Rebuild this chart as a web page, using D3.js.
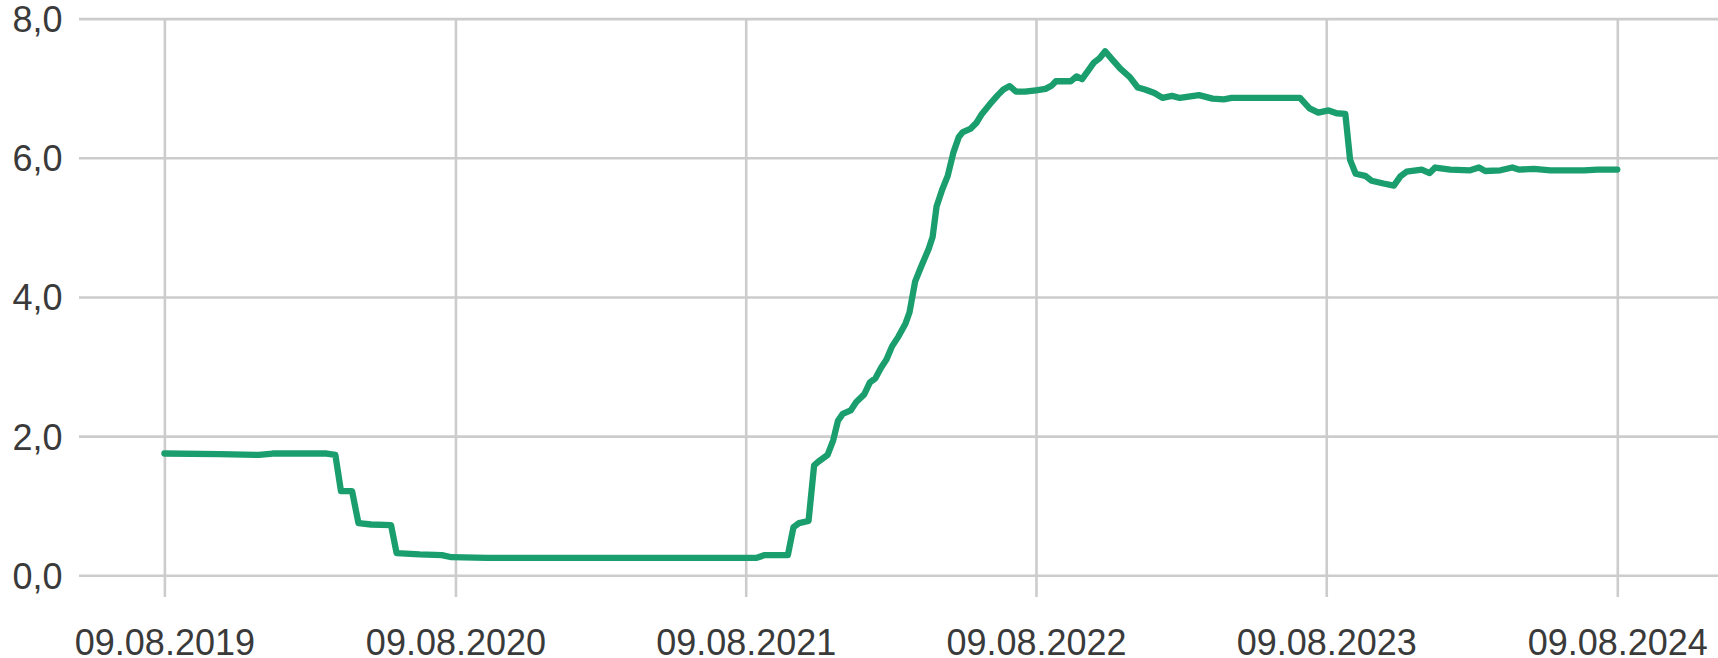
<!DOCTYPE html>
<html>
<head>
<meta charset="utf-8">
<script src="https://cdn.jsdelivr.net/npm/d3@7"></script>
<style>
  html, body { margin: 0; padding: 0; background: #ffffff; }
  svg { display: block; }
  .tick text { font-family: "Liberation Sans", Arial, sans-serif; font-size: 36px; fill: #3a3a3a; }
</style>
</head>
<body>
<svg id="chart" width="1718" height="658"></svg>
<script>
// ---- data ----
const dates = [
  "2019-08-09","2019-10-17","2019-12-06","2019-12-23","2020-02-29","2020-03-11","2020-03-18","2020-04-01",
  "2020-04-09","2020-04-25","2020-05-20","2020-05-27","2020-06-25","2020-07-23","2020-08-04","2020-09-18",
  "2021-08-22","2021-09-02","2021-10-01","2021-10-08","2021-10-15","2021-10-27","2021-11-03","2021-11-08",
  "2021-11-20","2021-11-27","2021-12-03","2021-12-09","2021-12-19","2021-12-26","2022-01-05","2022-01-12",
  "2022-01-19","2022-01-26","2022-02-02","2022-02-09","2022-02-17","2022-02-26","2022-03-03","2022-03-10",
  "2022-03-17","2022-03-27","2022-04-01","2022-04-06","2022-04-13","2022-04-20","2022-04-27","2022-05-04",
  "2022-05-09","2022-05-19","2022-05-26","2022-06-02","2022-06-12","2022-06-22","2022-06-29","2022-07-07",
  "2022-07-15","2022-07-26","2022-08-09","2022-08-21","2022-08-29","2022-09-03","2022-09-22","2022-09-29",
  "2022-10-06","2022-10-21","2022-10-28","2022-11-04","2022-11-13","2022-11-23","2022-12-05","2022-12-15",
  "2022-12-24","2023-01-05","2023-01-15","2023-01-27","2023-02-06","2023-03-02","2023-03-19","2023-04-02",
  "2023-04-12","2023-07-07","2023-07-19","2023-07-30","2023-08-12","2023-08-22","2023-09-02","2023-09-08",
  "2023-09-15","2023-09-27","2023-10-05","2023-10-20","2023-11-02","2023-11-10","2023-11-18","2023-12-07",
  "2023-12-17","2023-12-24","2024-01-12","2024-02-06","2024-02-17","2024-02-25","2024-03-15","2024-03-30",
  "2024-04-07","2024-04-26","2024-05-17","2024-06-28","2024-07-15","2024-08-09"
];
const values = [
  1.75,1.74,1.73,1.75,1.75,1.73,1.21,1.21,
  0.75,0.73,0.72,0.32,0.30,0.29,0.26,0.25,
  0.25,0.29,0.29,0.69,0.75,0.78,1.58,1.63,
  1.73,1.94,2.22,2.32,2.37,2.49,2.60,2.77,
  2.83,2.98,3.10,3.29,3.43,3.62,3.78,4.22,
  4.42,4.69,4.86,5.30,5.54,5.74,6.07,6.30,
  6.37,6.42,6.50,6.63,6.77,6.90,6.98,7.03,
  6.95,6.95,6.97,6.99,7.04,7.10,7.10,7.17,
  7.13,7.37,7.43,7.53,7.41,7.28,7.16,7.01,
  6.98,6.93,6.86,6.89,6.86,6.90,6.85,6.84,
  6.86,6.86,6.71,6.65,6.68,6.64,6.63,5.97,
  5.77,5.74,5.67,5.63,5.60,5.73,5.80,5.83,
  5.78,5.86,5.83,5.82,5.86,5.81,5.82,5.86,
  5.83,5.84,5.82,5.82,5.83,5.83
];
const xTickDates = ["2019-08-09","2020-08-09","2021-08-09","2022-08-09","2023-08-09","2024-08-09"];
const yTicks = [0, 2, 4, 6, 8];

// ---- chart ----
const W = 1718, H = 658;
const plot = { left: 164.4, right: 1617.3, top: 18.6, bottom: 575.3 };
const parse = d3.timeParse("%Y-%m-%d");
const data = dates.map((d, i) => ({ date: parse(d), value: values[i] }));

const x = d3.scaleTime()
  .domain([parse(xTickDates[0]), parse(xTickDates[xTickDates.length - 1])])
  .range([plot.left, plot.right]);
const y = d3.scaleLinear().domain([0, 8]).range([plot.bottom, plot.top]);

const svg = d3.select("#chart");
const gridColor = "#cccccc";

// horizontal gridlines + y labels
const gridLeft = 79;
const yAxis = d3.axisLeft(y)
  .tickValues(yTicks)
  .tickSize(-(W - gridLeft))
  .tickPadding(16.5)
  .tickFormat(d => d3.format(".1f")(d).replace(".", ","));
svg.append("g")
  .attr("transform", `translate(${gridLeft},0)`)
  .call(yAxis)
  .call(g => g.select(".domain").remove())
  .call(g => g.selectAll(".tick line").attr("stroke", gridColor).attr("stroke-width", 2.6))
  .call(g => g.selectAll(".tick text").attr("dy", "0.36em"));

// vertical gridlines + x labels
const gridBottom = 597;
const xAxis = d3.axisBottom(x)
  .tickValues(xTickDates.map(parse))
  .tickSize(-(gridBottom - plot.top))
  .tickPadding(32)
  .tickFormat(d3.timeFormat("%d.%m.%Y"));
svg.append("g")
  .attr("transform", `translate(0,${gridBottom})`)
  .call(xAxis)
  .call(g => g.select(".domain").remove())
  .call(g => g.selectAll(".tick line").attr("stroke", gridColor).attr("stroke-width", 2.6));

// line
const line = d3.line().x(d => x(d.date)).y(d => y(d.value));
svg.append("path")
  .datum(data)
  .attr("fill", "none")
  .attr("stroke", "#1a9e6d")
  .attr("stroke-width", 6.3)
  .attr("stroke-linejoin", "round")
  .attr("stroke-linecap", "round")
  .attr("d", line);
</script>
</body>
</html>
